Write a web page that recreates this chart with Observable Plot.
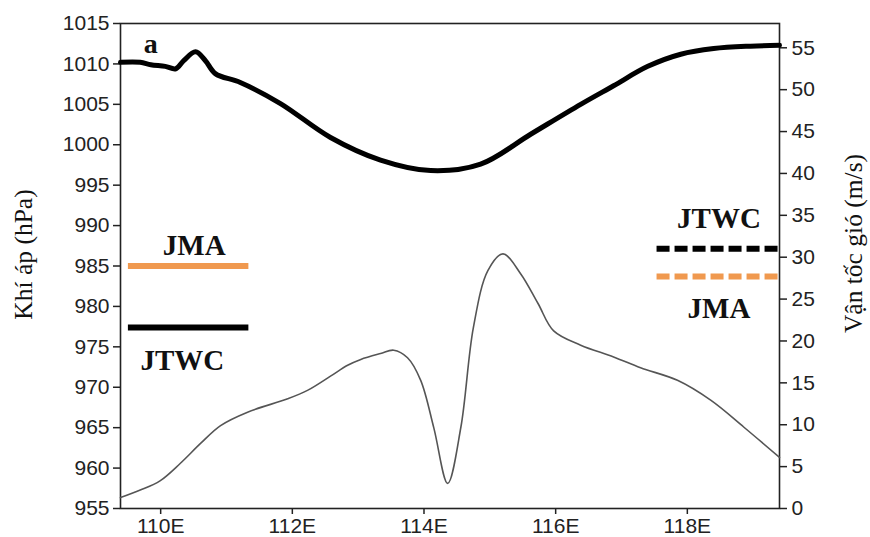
<!DOCTYPE html>
<html><head><meta charset="utf-8">
<script src="https://cdn.jsdelivr.net/npm/d3@7"></script>
<script src="https://cdn.jsdelivr.net/npm/@observablehq/plot@0.6"></script>
<style>body{margin:0;background:#fff} #chart svg{display:block}</style>
</head><body><div id="chart"></div>
<script>
// ---- data ----
const pressureLon = [109.39,109.69,109.85,110.07,110.23,110.35,110.53,110.68,110.83,111.21,111.82,112.58,113.34,114.10,114.86,115.62,116.38,116.88,117.40,117.90,118.40,118.96,119.40];
const pressureHPa = [1010.2,1010.2,1009.9,1009.7,1009.4,1010.4,1011.5,1010.4,1008.8,1007.7,1005.1,1000.9,998.1,996.8,997.6,1001.3,1005.0,1007.3,1009.7,1011.2,1011.9,1012.2,1012.3];
const windLon = [109.39,109.69,109.99,110.30,110.61,110.91,111.32,111.93,112.23,112.58,112.84,113.04,113.34,113.54,113.75,113.95,114.15,114.36,114.56,114.75,114.97,115.20,115.47,115.73,115.97,116.38,116.88,117.29,117.85,118.36,118.86,119.40];
const windMS = [1.3,2.2,3.3,5.4,7.8,9.9,11.5,13.1,14.1,15.8,17.1,17.8,18.5,18.9,18.0,15.3,9.6,3.0,9.7,21.6,28.4,30.4,28.0,24.5,21.2,19.5,18.1,16.8,15.3,12.9,9.7,6.1];
const lonTicks = [110,112,114,116,118];
const pressureTicks = [955,960,965,970,975,980,985,990,995,1000,1005,1010,1015];
const windTicks = [0,5,10,15,20,25,30,35,40,45,50,55];
// best-track reference values
const jmaPressure = 985, jtwcPressure = 977.4;   // hPa
const jtwcWind = 31, jmaWind = 27.7;             // m/s
// annotation extents (longitude)
const leftSeg = [109.51, 111.34], rightSeg = [117.54, 119.40];

// ---- scales ----
const P0 = 955, P1 = 1015, W1 = 57.9;
const w2p = w => P0 + w * (P1 - P0) / W1;
const p2w = p => (p - P0) * W1 / (P1 - P0);

const orange = "#f0994f";
const serif = "'Liberation Serif', 'Times New Roman', serif";
const pressureData = pressureLon.map((x, i) => ({x, y: pressureHPa[i]}));
const windData = windLon.map((x, i) => ({x, y: w2p(windMS[i])}));

const labelStyle = {fontFamily: serif, fontWeight: "bold", fontSize: 29, fill: "#111", textAnchor: "middle", lineAnchor: "bottom"};
const titleStyle = {rotate: -90, textAnchor: "middle", lineAnchor: "middle", fontFamily: serif, fontSize: 25.5, fill: "#111"};

const chart = Plot.plot({
  width: 870, height: 537,
  marginLeft: 120, marginRight: 91, marginTop: 23, marginBottom: 29,
  x: {domain: [109.39, 119.40]},
  y: {domain: [P0, P1]},
  style: {fontFamily: "'Liberation Sans', Arial, sans-serif", background: "#fff", color: "#222"},
  marks: [
    Plot.axisX(lonTicks, {tickFormat: d => d + "E", tickSize: 6, tickPadding: 4, fontSize: 21, label: null, strokeWidth: 1.5}),
    Plot.axisY(pressureTicks, {anchor: "left", tickFormat: d => String(d), tickSize: 7, tickPadding: 4, fontSize: 21, label: null, strokeWidth: 1.5}),
    Plot.axisY(windTicks.map(w2p), {anchor: "right", tickFormat: p => String(Math.round(p2w(p))), tickSize: 7, tickPadding: 5, fontSize: 21, label: null, strokeWidth: 1.5}),
    Plot.frame({stroke: "#222", strokeWidth: 1.6}),
    Plot.line(windData, {x: "x", y: "y", stroke: "#555", strokeWidth: 1.6, curve: "catmull-rom"}),
    Plot.line(pressureData, {x: "x", y: "y", stroke: "#000", strokeWidth: 5, curve: "catmull-rom", strokeLinejoin: "round"}),
    Plot.ruleY([jmaPressure], {x1: leftSeg[0], x2: leftSeg[1], stroke: orange, strokeWidth: 6}),
    Plot.ruleY([jtwcPressure], {x1: leftSeg[0], x2: leftSeg[1], stroke: "#000", strokeWidth: 6}),
    Plot.ruleY([w2p(jtwcWind)], {x1: rightSeg[0], x2: rightSeg[1], stroke: "#000", strokeWidth: 6, strokeDasharray: "13,5"}),
    Plot.ruleY([w2p(jmaWind)], {x1: rightSeg[0], x2: rightSeg[1], stroke: orange, strokeWidth: 6, strokeDasharray: "13,5"}),
    Plot.text(["JMA"], {x: 110.51, y: 986.3, ...labelStyle}),
    Plot.text(["JTWC"], {x: 110.33, y: 972.1, ...labelStyle}),
    Plot.text(["JTWC"], {x: 118.48, y: w2p(33.5), ...labelStyle}),
    Plot.text(["JMA"], {x: 118.48, y: w2p(22.8), ...labelStyle}),
    Plot.text(["a"], {x: 109.85, y: 1011.4, ...labelStyle, fontSize: 28}),
    Plot.text(["Khí áp (hPa)"], {frameAnchor: "left", dx: -97, dy: -11.5, ...titleStyle}),
    Plot.text(["Vận tốc gió (m/s)"], {frameAnchor: "right", dx: 74, dy: -22.5, ...titleStyle})
  ]
});
document.getElementById("chart").appendChild(chart);
</script>
</body></html>
